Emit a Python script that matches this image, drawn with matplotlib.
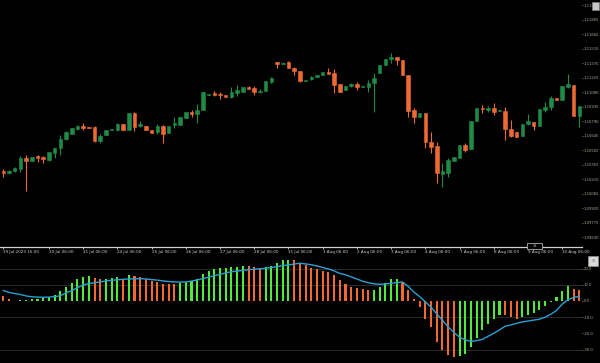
import numpy as np
import matplotlib
matplotlib.use("Agg")
import matplotlib.pyplot as plt
from matplotlib.patches import Rectangle

# H4 candles
opens = [1.1029, 1.1027, 1.1029, 1.1031, 1.1042, 1.1039, 1.1044, 1.1043, 1.1040, 1.1047,
         1.1052, 1.1061, 1.1066, 1.1071, 1.1074, 1.1073, 1.1073, 1.1059, 1.1065, 1.1070,
         1.1070, 1.1076, 1.1070, 1.1087, 1.1074, 1.1074, 1.1070, 1.1068, 1.1074, 1.1067,
         1.1075, 1.1075, 1.1082, 1.1088, 1.1086, 1.1090, 1.1105, 1.1107, 1.1106, 1.1105,
         1.1103, 1.1107, 1.1108, 1.1113, 1.1112, 1.1108, 1.1109, 1.1118, 1.1138, 1.1136,
         1.1138, 1.1132, 1.1129, 1.1119, 1.1121, 1.1123, 1.1125, 1.1128, 1.1127, 1.1116,
         1.1110, 1.1114, 1.1116, 1.1113, 1.1113, 1.1117, 1.1127, 1.1135, 1.1141, 1.1143,
         1.1140, 1.1125, 1.1090, 1.1083, 1.1087, 1.1058, 1.1054, 1.1026, 1.1027, 1.1039,
         1.1042, 1.1055, 1.1051, 1.1079, 1.1092, 1.1090, 1.1092, 1.1089, 1.1089, 1.1071,
         1.1068, 1.1064, 1.1076, 1.1078, 1.1074, 1.1090, 1.1093, 1.1102, 1.1100, 1.1113,
         1.1115, 1.1084]
highs = [1.1031, 1.1030, 1.1033, 1.1044, 1.1045, 1.1043, 1.1045, 1.1044, 1.1048, 1.1052,
         1.1065, 1.1069, 1.1072, 1.1075, 1.1077, 1.1073, 1.1074, 1.1066, 1.1070, 1.1071,
         1.1077, 1.1076, 1.1087, 1.1088, 1.1079, 1.1074, 1.1070, 1.1076, 1.1075, 1.1074,
         1.1083, 1.1083, 1.1088, 1.1090, 1.1096, 1.1108, 1.1106, 1.1109, 1.1108, 1.1105,
         1.1113, 1.1115, 1.1113, 1.1114, 1.1114, 1.1111, 1.1119, 1.1123, 1.1138, 1.1138,
         1.1139, 1.1133, 1.1129, 1.1120, 1.1124, 1.1125, 1.1128, 1.1132, 1.1131, 1.1116,
         1.1114, 1.1117, 1.1118, 1.1114, 1.1120, 1.1127, 1.1135, 1.1141, 1.1147, 1.1143,
         1.1140, 1.1125, 1.1092, 1.1087, 1.1087, 1.1068, 1.1058, 1.1037, 1.1042, 1.1043,
         1.1055, 1.1057, 1.1079, 1.1092, 1.1095, 1.1094, 1.1097, 1.1090, 1.1093, 1.1080,
         1.1068, 1.1076, 1.1086, 1.1078, 1.1091, 1.1098, 1.1104, 1.1102, 1.1114, 1.1126,
         1.1115, 1.1094]
lows = [1.1023, 1.1026, 1.1028, 1.1028, 1.1009, 1.1039, 1.1038, 1.1037, 1.1039, 1.1042,
        1.1045, 1.1060, 1.1066, 1.1070, 1.1070, 1.1072, 1.1058, 1.1057, 1.1065, 1.1070,
        1.1069, 1.1070, 1.1070, 1.1069, 1.1073, 1.1070, 1.1067, 1.1066, 1.1057, 1.1067,
        1.1072, 1.1075, 1.1082, 1.1083, 1.1077, 1.1090, 1.1105, 1.1104, 1.1101, 1.1103,
        1.1102, 1.1104, 1.1108, 1.1111, 1.1105, 1.1107, 1.1109, 1.1117, 1.1132, 1.1136,
        1.1132, 1.1125, 1.1118, 1.1119, 1.1120, 1.1123, 1.1125, 1.1126, 1.1107, 1.1108,
        1.1110, 1.1113, 1.1110, 1.1113, 1.1108, 1.1088, 1.1127, 1.1135, 1.1137, 1.1135,
        1.1125, 1.1083, 1.1077, 1.1083, 1.1052, 1.1047, 1.1017, 1.1013, 1.1023, 1.1039,
        1.1042, 1.1048, 1.1051, 1.1079, 1.1087, 1.1088, 1.1085, 1.1089, 1.1060, 1.1063,
        1.1063, 1.1064, 1.1075, 1.1070, 1.1074, 1.1088, 1.1090, 1.1100, 1.1100, 1.1112,
        1.1084, 1.1073]
closes = [1.1027, 1.1029, 1.1032, 1.1042, 1.1039, 1.1043, 1.1042, 1.1041, 1.1048, 1.1052,
          1.1061, 1.1068, 1.1072, 1.1074, 1.1072, 1.1072, 1.1059, 1.1064, 1.1070, 1.1071,
          1.1076, 1.1070, 1.1087, 1.1073, 1.1076, 1.1070, 1.1067, 1.1074, 1.1066, 1.1074,
          1.1077, 1.1083, 1.1088, 1.1086, 1.1090, 1.1108, 1.1106, 1.1105, 1.1105, 1.1103,
          1.1108, 1.1110, 1.1113, 1.1111, 1.1108, 1.1109, 1.1119, 1.1122, 1.1136, 1.1137,
          1.1132, 1.1129, 1.1119, 1.1120, 1.1123, 1.1125, 1.1128, 1.1126, 1.1115, 1.1108,
          1.1114, 1.1116, 1.1113, 1.1114, 1.1117, 1.1122, 1.1135, 1.1141, 1.1143, 1.1140,
          1.1125, 1.1089, 1.1083, 1.1087, 1.1058, 1.1053, 1.1027, 1.1029, 1.1040, 1.1043,
          1.1055, 1.1050, 1.1079, 1.1092, 1.1091, 1.1092, 1.1088, 1.1090, 1.1071, 1.1064,
          1.1063, 1.1076, 1.1079, 1.1074, 1.1091, 1.1093, 1.1102, 1.1100, 1.1114, 1.1116,
          1.1084, 1.1094]

# MACD histogram and signal line
macd_hist = [3.1, 1.0, 0.2, 0.4, 0.5, 1.2, 1.3, 2.0, 2.3, 3.7,
             6.2, 8.5, 11.3, 13.4, 14.6, 15.4, 14.0, 13.4, 13.6, 14.0,
             14.6, 13.4, 16.0, 15.4, 14.6, 13.4, 12.5, 11.9, 10.5, 10.4,
             10.3, 11.3, 11.9, 12.5, 13.4, 16.7, 18.5, 19.6, 20.2, 20.4,
             20.8, 20.9, 21.6, 21.4, 20.8, 20.2, 20.8, 21.6, 23.3, 25.3,
             25.4, 25.1, 23.3, 22.2, 20.6, 19.6, 18.7, 18.1, 16.0, 13.0,
             10.3, 8.8, 7.8, 7.2, 6.8, 6.9, 8.8, 11.3, 13.4, 13.5,
             11.9, 6.8, 1.5, -3.5, -11.1, -15.9, -25.1, -30.2, -33.3, -34.8,
             -34.0, -32.7, -28.2, -22.7, -17.9, -14.2, -11.3, -8.6, -8.8, -10.1,
             -11.3, -9.7, -8.6, -7.2, -5.6, -2.9, -0.6, 2.7, 6.4, 9.4,
             7.4, 6.8]
macd_signal = [6.5, 5.3, 4.6, 4.0, 3.1, 2.6, 2.4, 2.3, 2.4, 2.7,
               3.2, 5.0, 6.4, 8.2, 9.9, 10.7, 11.3, 11.8, 12.4, 12.8,
               13.1, 13.4, 13.6, 13.7, 13.8, 13.6, 13.2, 12.9, 12.4, 12.0,
               11.8, 11.7, 11.7, 12.3, 13.0, 13.8, 14.7, 15.6, 16.4, 17.4,
               18.0, 18.5, 18.9, 19.3, 19.6, 19.9, 20.2, 20.7, 21.2, 21.8,
               22.3, 22.8, 23.3, 22.9, 22.4, 21.6, 20.7, 19.8, 18.6, 17.0,
               16.2, 14.9, 13.6, 12.2, 11.3, 10.6, 10.3, 10.5, 10.9, 11.4,
               11.7, 9.0, 5.5, 2.7, -0.5, -3.8, -8.0, -11.9, -16.0, -19.4,
               -22.4, -24.0, -25.0, -24.5, -23.7, -21.8, -20.0, -17.8, -15.6, -14.8,
               -13.8, -12.9, -12.4, -11.8, -11.3, -10.0, -8.2, -5.9, -2.0, 0.8,
               2.2, 2.9]

time_ticks = [0, 8, 14, 20, 26, 32, 38, 44, 50, 56, 62, 68, 74, 80, 86, 92, 98]
time_labels = ['19 Jul 2023 16:00', '20 Jul 06:00', '21 Jul 06:00', '24 Jul 06:00',
               '25 Jul 06:00', '26 Jul 06:00', '27 Jul 06:00', '28 Jul 06:00',
               '31 Jul 06:00', '1 Aug 06:00', '2 Aug 06:00', '3 Aug 06:00',
               '4 Aug 06:00', '7 Aug 06:00', '8 Aug 06:00', '9 Aug 06:00',
               '10 Aug 06:00']
macd_levels = [20, 10, 0, -10, -20, -30]

o = np.array(opens)
c = np.array(closes)
hi = np.array(highs)
lo = np.array(lows)
h = np.array(macd_hist)
x = np.arange(len(o))

BULL = '#1f8b47'
BEAR = '#ee6a33'
HUP = '#52ea3a'
HDN = '#f0692f'
LBL = '#b3aa9c'

fig = plt.figure(figsize=(6, 3.63), dpi=100, facecolor='black')
ax = fig.add_axes([0, 116 / 363, 582 / 600, 247 / 363], facecolor='black')
ax2 = fig.add_axes([0, 0, 582 / 600, 108 / 363], facecolor='black')

# candles
cols = np.where(c >= o, BULL, BEAR)
ax.vlines(x, lo, hi, colors=cols, lw=0.8)
ax.bar(x, c - o, bottom=o, width=0.62, color=cols, edgecolor=cols, linewidth=0.4)

ax.set_xlim(-0.58, 101.47)
ax.set_ylim(1.0953, 1.1200)
pticks = 1.1195 - 0.00145 * np.arange(17)
ax.yaxis.tick_right()
ax.set_yticks(pticks)
ax.set_yticklabels([f'{v:.5f}' for v in pticks])
ax.tick_params(axis='y', colors=LBL, labelsize=2.7, length=1, width=0.5, pad=0.4)
ax.set_xticks(time_ticks)
ax.set_xticklabels(time_labels)
for t in ax.get_xticklabels():
    t.set_ha('left')
ax.tick_params(axis='x', colors='#cfcfcf', labelsize=3, length=1.5, width=0.6, pad=0.8)
for s in ['top', 'left', 'right']:
    ax.spines[s].set_visible(False)
ax.spines['bottom'].set_color('#d0d0d0')
ax.spines['bottom'].set_linewidth(0.9)

# macd panel
for lv in [20, 10, -10, -30]:
    ax2.axhline(lv, color='#333333', lw=0.6, zorder=0)
rising = np.r_[False, np.diff(h) > 0]
ax2.bar(x, h, width=0.36, color=np.where(rising, HUP, HDN), linewidth=0)
ax2.plot(x, macd_signal, color='#2a9fd8', lw=1.0)
ax2.set_xlim(-0.58, 101.47)
ax2.set_ylim(-38.3, 28.4)
ax2.set_xticks([])
ax2.yaxis.tick_right()
ax2.set_yticks(macd_levels)
ax2.set_yticklabels([f'{v:.1f}' for v in macd_levels])
ax2.tick_params(axis='y', colors=LBL, labelsize=2.7, length=1, width=0.5, pad=0.4)
for s in ax2.spines.values():
    s.set_visible(False)

# small window buttons
fig.patches.append(Rectangle((592 / 600, 1 - 10 / 363), 7 / 600, 8 / 363,
                             transform=fig.transFigure, facecolor='#c8c8c8',
                             edgecolor='#888888', lw=0.4))
fig.patches.append(Rectangle((588 / 600, 97 / 363), 10 / 600, 10 / 363,
                             transform=fig.transFigure, facecolor='#d8d8d8',
                             edgecolor='#999999', lw=0.4))
fig.text(593 / 600, 102 / 363, 'x', color='#777777', fontsize=4, ha='center', va='center')
fig.patches.append(Rectangle((527 / 600, 114 / 363), 15 / 600, 6 / 363,
                             transform=fig.transFigure, facecolor='black',
                             edgecolor='#d0d0d0', lw=0.5))
fig.text(534.5 / 600, 117 / 363, '15', color='#d0d0d0', fontsize=2.5, ha='center', va='center')

fig.savefig('out.png', dpi=100, facecolor='black')
